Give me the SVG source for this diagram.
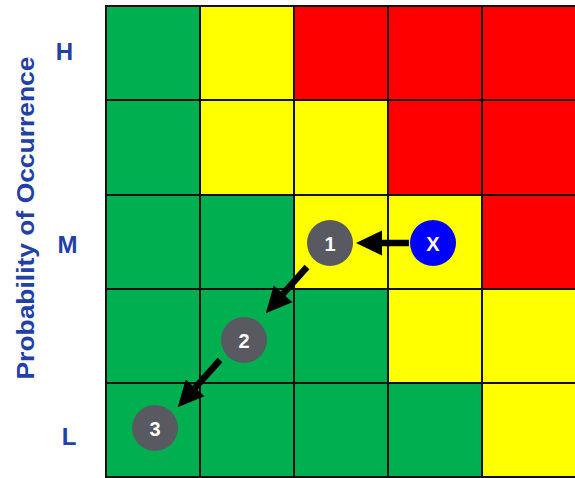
<svg xmlns="http://www.w3.org/2000/svg" width="575" height="478" viewBox="0 0 575 478">
<style>
.g{fill:#00B050}.y{fill:#FFFF00}.r{fill:#FF0000}
.cell{stroke:#111;stroke-width:2}
.lab{font-family:"Liberation Sans",Arial,sans-serif;font-weight:bold;fill:#2140A8}
.num{font-family:"Liberation Sans",Arial,sans-serif;font-weight:bold;font-size:20px;fill:#fff;text-anchor:middle;dominant-baseline:central}
.node{fill:#595961}
.arr{stroke:#000;stroke-width:6.5;fill:none;marker-end:url(#ah)}
</style>
<defs>
<marker id="ah" markerUnits="userSpaceOnUse" markerWidth="27" markerHeight="25" refX="1" refY="12.5" orient="auto" overflow="visible">
<path d="M0,0 L26,12.5 L0,25 Z" fill="#000"/>
</marker>
</defs>
<rect width="575" height="478" fill="#fff"/>
<g id="grid">
<rect class="cell g" x="106" y="6" width="94" height="94"/>
<rect class="cell y" x="200" y="6" width="94" height="94"/>
<rect class="cell r" x="294" y="6" width="94" height="94"/>
<rect class="cell r" x="388" y="6" width="94" height="94"/>
<rect class="cell r" x="482" y="6" width="94" height="94"/>
<rect class="cell g" x="106" y="100" width="94" height="95"/>
<rect class="cell y" x="200" y="100" width="94" height="95"/>
<rect class="cell y" x="294" y="100" width="94" height="95"/>
<rect class="cell r" x="388" y="100" width="94" height="95"/>
<rect class="cell r" x="482" y="100" width="94" height="95"/>
<rect class="cell g" x="106" y="195" width="94" height="94"/>
<rect class="cell g" x="200" y="195" width="94" height="94"/>
<rect class="cell y" x="294" y="195" width="94" height="94"/>
<rect class="cell y" x="388" y="195" width="94" height="94"/>
<rect class="cell r" x="482" y="195" width="94" height="94"/>
<rect class="cell g" x="106" y="289" width="94" height="94"/>
<rect class="cell g" x="200" y="289" width="94" height="94"/>
<rect class="cell g" x="294" y="289" width="94" height="94"/>
<rect class="cell y" x="388" y="289" width="94" height="94"/>
<rect class="cell y" x="482" y="289" width="94" height="94"/>
<rect class="cell g" x="106" y="383" width="94" height="94"/>
<rect class="cell g" x="200" y="383" width="94" height="94"/>
<rect class="cell g" x="294" y="383" width="94" height="94"/>
<rect class="cell g" x="388" y="383" width="94" height="94"/>
<rect class="cell y" x="482" y="383" width="94" height="94"/>
</g>
<g id="labels">
<text class="lab" x="34" y="218" font-size="23" text-anchor="middle" transform="rotate(-90 34 218)" textLength="323" lengthAdjust="spacingAndGlyphs">Probability of Occurrence</text>
<text class="lab" x="64.5" y="60" font-size="24" text-anchor="middle">H</text>
<text class="lab" x="67.5" y="253" font-size="24" text-anchor="middle">M</text>
<text class="lab" x="69" y="445" font-size="24" text-anchor="middle">L</text>
</g>
<g id="connectors">
<line class="arr" x1="409" y1="243" x2="381" y2="243"/>
<line class="arr" x1="307" y1="267" x2="282.4" y2="294.6"/>
<line class="arr" x1="220" y1="360" x2="194.4" y2="388.6"/>
</g>
<g id="node-x"><circle cx="433" cy="243" r="23" fill="#0000FF"/><text class="num" x="433" y="244">X</text></g>
<g id="node-1"><circle class="node" cx="330" cy="243" r="23"/><text class="num" x="330" y="244">1</text></g>
<g id="node-2"><circle class="node" cx="244" cy="340" r="23"/><text class="num" x="244" y="341">2</text></g>
<g id="node-3"><circle class="node" cx="155" cy="428" r="23"/><text class="num" x="155" y="429">3</text></g>
</svg>
